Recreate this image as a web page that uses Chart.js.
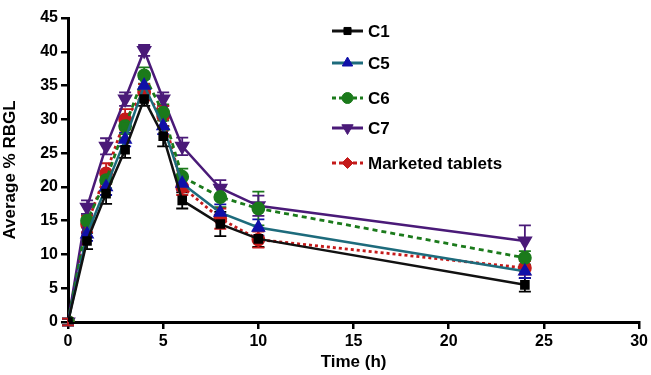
<!DOCTYPE html>
<html><head><meta charset="utf-8">
<script src="https://cdn.jsdelivr.net/npm/chart.js@4/dist/chart.umd.min.js"></script>
<style>html,body{margin:0;padding:0;background:#fff}</style>
</head><body>
<canvas id="c" width="651" height="375"></canvas>
<script>
const times = [0, 1, 2, 3, 4, 5, 6, 8, 10, 24];
const seriesNames = ['C1', 'C5', 'C6', 'C7', 'Marketed tablets'];
const c1 = [0, 12.0, 19.0, 25.5, 33.0, 27.5, 18.0, 14.5, 12.3, 5.5];
const c5 = [0, 13.0, 20.0, 27.0, 35.0, 29.0, 20.5, 16.2, 14.0, 7.5];
const c6 = [0, 15.0, 21.0, 29.0, 36.5, 31.0, 21.5, 18.5, 16.8, 9.5];
const c7 = [0, 17.0, 26.0, 33.0, 40.2, 33.0, 26.0, 19.8, 17.2, 12.0];
const mkt = [0, 14.5, 22.0, 30.0, 34.0, 30.5, 20.0, 15.3, 12.2, 8.0];
const c1Err = [0.5, 1.2, 1.5, 1.2, 1.0, 1.5, 1.2, 1.8, 1.2, 1.0];
const c5Err = [0.5, 1.0, 1.2, 1.0, 1.0, 1.2, 1.0, 1.2, 1.2, 1.0];
const c6Err = [0.5, 1.0, 1.2, 1.2, 1.2, 1.2, 1.2, 1.5, 2.5, 1.0];
const c7Err = [0.5, 1.0, 1.2, 1.0, 0.8, 1.0, 1.3, 1.2, 1.5, 2.3];
const mktErr = [0.5, 1.2, 1.5, 1.5, 1.2, 1.5, 1.2, 1.5, 1.2, 1.0];
const xTicks = [0, 5, 10, 15, 20, 25, 30];
const yTicks = [0, 5, 10, 15, 20, 25, 30, 35, 40, 45];

const FONT = 'Liberation Sans, Arial, sans-serif';
function pts(vals){ return times.map((t,i)=>({x:t,y:vals[i]})); }

const datasets = [
  {label: seriesNames[0], data: pts(c1), err: c1Err, borderColor:'#111111', backgroundColor:'#000000', pointBorderColor:'#000000', pointBackgroundColor:'#000000', pointStyle:'rect', pointRadius:5, borderWidth:2.5, borderDash:[], errColor:'#000000'},
  {label: seriesNames[1], data: pts(c5), err: c5Err, borderColor:'#1d6b7c', backgroundColor:'#1010a8', pointBorderColor:'#1010a8', pointBackgroundColor:'#1010a8', pointStyle:'triangle', pointRadius:6, borderWidth:2.5, borderDash:[], errColor:'#1010a8'},
  {label: seriesNames[2], data: pts(c6), err: c6Err, borderColor:'#1b7a1b', backgroundColor:'#1b7a1b', pointBorderColor:'#1b7a1b', pointBackgroundColor:'#1b7a1b', pointStyle:'circle', pointRadius:5.5, borderWidth:2.8, borderDash:[5,4], errColor:'#1b7a1b'},
  {label: seriesNames[3], data: pts(c7), err: c7Err, borderColor:'#4a1a78', backgroundColor:'#4a1a78', pointBorderColor:'#4a1a78', pointBackgroundColor:'#4a1a78', pointStyle:'triangle', pointRotation:180, pointRadius:6.5, borderWidth:2.5, borderDash:[], errColor:'#4a1a78'},
  {label: seriesNames[4], data: pts(mkt), err: mktErr, borderColor:'#c41a1a', backgroundColor:'#c41a1a', pointBorderColor:'#c41a1a', pointBackgroundColor:'#c41a1a', pointStyle:'circle', pointRadius:5.5, borderWidth:2.8, borderDash:[3,3], errColor:'#c41a1a'}
];

const errorBars = {
  id:'errorBars',
  beforeDatasetsDraw(chart){
    const ctx = chart.ctx, ys = chart.scales.y;
    chart.data.datasets.forEach((ds, di)=>{
      const meta = chart.getDatasetMeta(di);
      ctx.save();
      ctx.strokeStyle = ds.errColor; ctx.lineWidth = 1.8; ctx.setLineDash([]);
      meta.data.forEach((el, i)=>{
        const v = ds.data[i].y, e = ds.err[i];
        const x = el.x, yt = ys.getPixelForValue(v+e), yb = ys.getPixelForValue(v-e);
        ctx.beginPath();
        ctx.moveTo(x, yt); ctx.lineTo(x, yb);
        ctx.moveTo(x-6, yt); ctx.lineTo(x+6, yt);
        ctx.moveTo(x-6, yb); ctx.lineTo(x+6, yb);
        ctx.stroke();
      });
      ctx.restore();
    });
  }
};

const legendYs = [31, 63, 98, 128, 163];
const customLegend = {
  id:'customLegend',
  afterDraw(chart){
    const ctx = chart.ctx;
    chart.data.datasets.forEach((ds, i)=>{
      const y = legendYs[i];
      ctx.save();
      ctx.strokeStyle = ds.borderColor; ctx.lineWidth = 3;
      ctx.setLineDash(ds.borderDash.length ? [4,3] : []);
      ctx.beginPath(); ctx.moveTo(332, y); ctx.lineTo(363, y); ctx.stroke();
      ctx.setLineDash([]);
      ctx.fillStyle = ds.pointBackgroundColor; ctx.strokeStyle = ds.pointBorderColor; ctx.lineWidth = 1;
      const style = (i === 4) ? 'rectRot' : ds.pointStyle;
      Chart.helpers.drawPoint(ctx, {pointStyle: style, radius: ds.pointRadius, rotation: ds.pointRotation || 0, borderWidth: 1}, 347.5, y);
      ctx.fillStyle = '#000'; ctx.font = 'bold 17px ' + FONT; ctx.textBaseline = 'middle'; ctx.textAlign = 'left';
      ctx.fillText(ds.label, 368, y + 1);
      ctx.restore();
    });
  }
};

new Chart(document.getElementById('c'), {
  type:'line',
  data:{datasets},
  options:{
    responsive:false, animation:false,
    layout:{padding:{left:0, top:18, right:11, bottom:0}},
    plugins:{legend:{display:false}, tooltip:{enabled:false}},
    elements:{line:{tension:0}, point:{borderWidth:1}},
    scales:{
      x:{type:'linear', min:0, max:30,
        afterBuildTicks(s){ s.ticks = xTicks.map(v=>({value:v})); },
        afterFit(s){ s.height = 53; },
        border:{display:true, color:'#000', width:3},
        grid:{display:true, drawOnChartArea:false, drawTicks:true, tickLength:7, lineWidth:2.5, color:'#000'},
        ticks:{color:'#000', font:{family:FONT, size:16, weight:'bold'}, padding:3, maxRotation:0},
        title:{display:true, text:'Time (h)', color:'#000', font:{family:FONT, size:17, weight:'bold'}, padding:{top:0, bottom:2}}
      },
      y:{type:'linear', min:0, max:45,
        afterBuildTicks(s){ s.ticks = yTicks.map(v=>({value:v})); },
        afterFit(s){ s.width = 68; },
        border:{display:true, color:'#000', width:3},
        grid:{display:true, drawOnChartArea:false, drawTicks:true, tickLength:7, lineWidth:2.5, color:'#000'},
        ticks:{color:'#000', font:{family:FONT, size:16, weight:'bold'}, padding:3},
        title:{display:true, text:'Average % RBGL', color:'#000', font:{family:FONT, size:17, weight:'bold'}, padding:{top:0, bottom:6}}
      }
    }
  },
  plugins:[errorBars, customLegend]
});
</script>
</body></html>
